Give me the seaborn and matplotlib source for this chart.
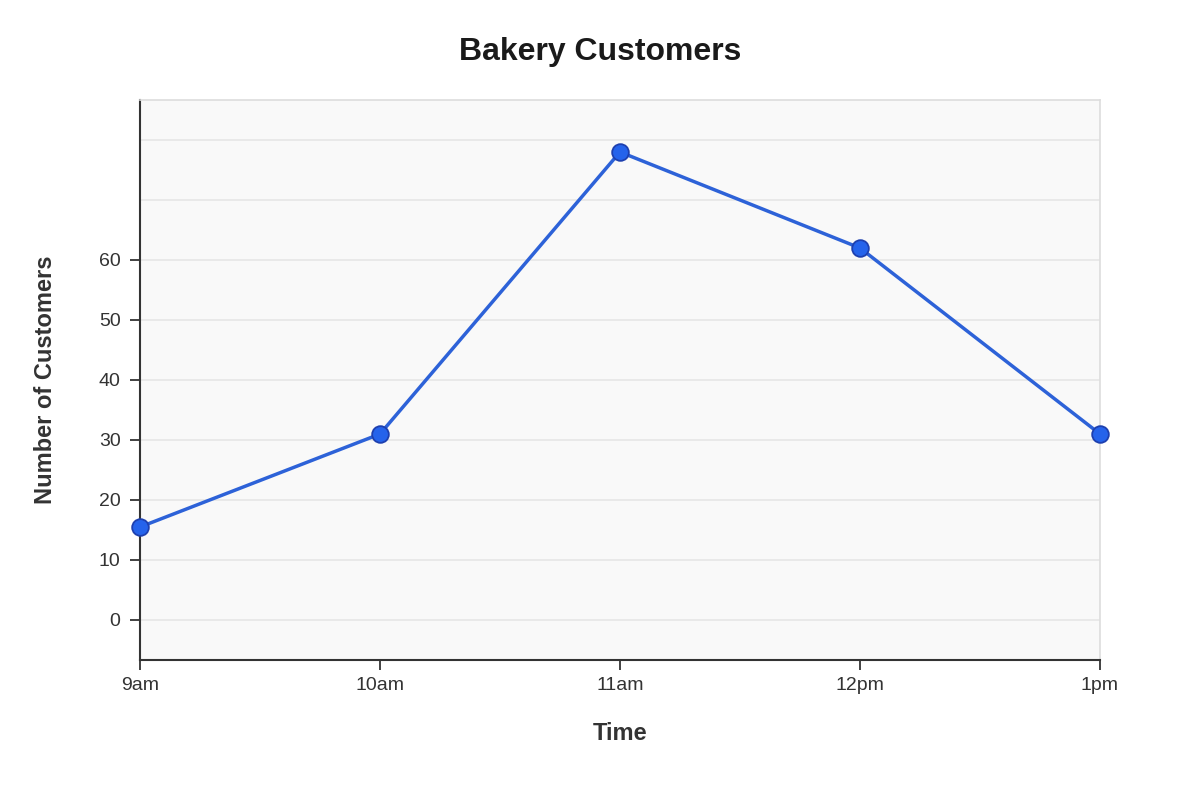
import matplotlib
matplotlib.use("Agg")
import matplotlib.pyplot as plt
import seaborn as sns
import pandas as pd

times = ["9am", "10am", "11am", "12pm", "1pm"]
customers = [15.5, 31, 78, 62, 31]
y_ticks = [0, 10, 20, 30, 40, 50, 60]
grid_extra = [70, 80]

df = pd.DataFrame({"Time": times, "Customers": customers})

sns.set_theme(style="white")
plt.rcParams["font.family"] = ["Liberation Sans", "DejaVu Sans"]

fig = plt.figure(figsize=(12, 8), dpi=100)
ax = fig.add_axes([140 / 1200, 1 - 660 / 800, 960 / 1200, 560 / 800])
ax.set_facecolor("#f9f9f9")

sns.lineplot(data=df, x="Time", y="Customers", ax=ax, sort=False,
             color="#2d62d8", linewidth=2.5, marker="o", markersize=12,
             markerfacecolor="#2563eb", markeredgecolor="#1e40af",
             markeredgewidth=1.3, zorder=3, clip_on=False)

ax.set_xlim(0, len(times) - 1)
ax.set_ylim(-20 / 3, 260 / 3)
ax.set_yticks(y_ticks)
ax.set_yticks(grid_extra, minor=True)
ax.tick_params(axis="y", which="minor", length=0)
ax.grid(True, which="both", axis="y", color="#e6e6e6", linewidth=1.2)
ax.grid(False, axis="x")
ax.set_axisbelow(True)

for s in ["left", "bottom"]:
    ax.spines[s].set_color("#333333")
    ax.spines[s].set_linewidth(1.5)
for s in ["top", "right"]:
    ax.spines[s].set_color("#dddddd")
    ax.spines[s].set_linewidth(1.2)

ax.tick_params(axis="both", which="major", length=7, width=1.3, color="#333333",
               labelsize=14, labelcolor="#333333", left=True, bottom=True)
ax.tick_params(axis="y", which="major", pad=7)
ax.tick_params(axis="x", which="major", pad=5)

fig.text(0.5, 1 - 52 / 800, "Bakery Customers", ha="center", va="center",
         fontsize=23, fontweight="bold", color="#1a1a1a")
ax.set_xlabel("Time", fontsize=17, fontweight="bold", color="#333333", va="center")
ax.xaxis.set_label_coords(0.5, (660 - 734) / 560)
ax.set_ylabel("Number of Customers", fontsize=17, fontweight="bold", color="#333333", va="center")
ax.yaxis.set_label_coords((46 - 140) / 960, 0.5)

fig.savefig("out.png", dpi=100)
